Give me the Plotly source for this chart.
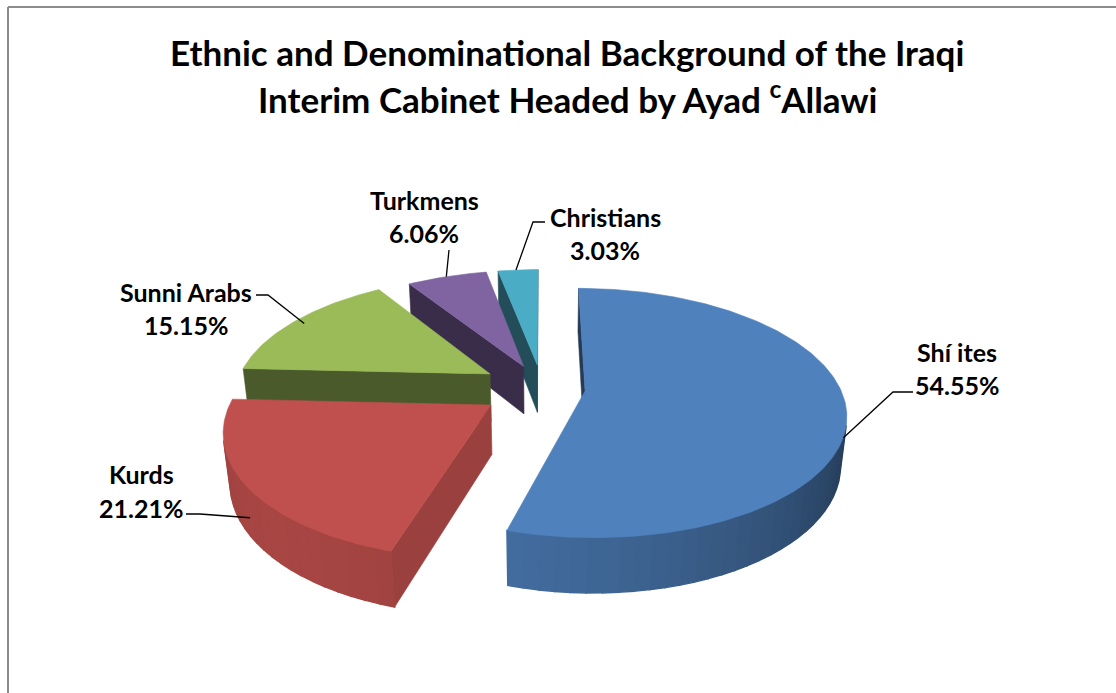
import numpy as np
import plotly.graph_objects as go

# ---- data -------------------------------------------------------------
categories = ["Shí ites", "Kurds", "Sunni Arabs", "Turkmens", "Christians"]
shares = [54.55, 21.21, 15.15, 6.06, 3.03]

# ---- styling ----------------------------------------------------------
colors = ["#4F81BD", "#C0504D", "#9BBB59", "#8064A2", "#4BACC6"]
pulls = [0.17, 0.24, 0.24, 0.20, 0.20]          # explode distance (radius units)
radial_shade = [0.45, 0.80, 0.48, 0.45, 0.45]   # brightness of the cut faces
# label placement: (x centre, name y, value y), elbow points, anchor on slice
label_pos = [(957, 352, 385), (141, 474, 508), (186, 292, 325), (424, 200, 233), (605, 217, 250)]
label_elbow = [[(913, 392), (893, 392)], [(186, 514), (200, 514)], [(256, 295), (268, 295)],
               [(449, 250)], [(545, 222), (533, 222)]]
anchor_spec = [(100, 1.0, -0.5), (235, 1.0, -0.6), (300, 0.95, 0.0), (338, 1.0, 0.0), (354, 1.0, 0.0)]

W, H = 1116, 693
FONT = "Lato"

# ---- simple perspective camera for a tilted 3-D pie --------------------
ALPHA = np.radians(28)
DIST = 5.0
FOCAL = 1275.0
CX, CY = 542.0, 388.0
THICK = 0.22
CAM = np.array([0.0, DIST * np.sin(ALPHA), -DIST * np.cos(ALPHA)])
LIGHT = np.array([-1.0, 0.0, -1.0]) / np.sqrt(2)


def project(X, Y, Z):
    X, Y, Z = np.asarray(X, float), np.asarray(Y, float), np.asarray(Z, float)
    yp = Y * np.cos(ALPHA) + Z * np.sin(ALPHA)
    zp = Z * np.cos(ALPHA) - Y * np.sin(ALPHA)
    s = FOCAL / (DIST + zp)
    return CX + X * s, CY - yp * s


def depth(X, Y, Z):
    return Z * np.cos(ALPHA) - Y * np.sin(ALPHA)


def shade(hex_color, f):
    h = hex_color.lstrip("#")
    rgb = [int(h[i:i + 2], 16) for i in (0, 2, 4)]
    rgb = [max(0, min(255, int(round(c * f)))) for c in rgb]
    return "rgb(%d,%d,%d)" % tuple(rgb)


def facing(normal, point):
    return np.dot(normal, CAM - point) > 0


fig = go.Figure()


def poly(xs, ys, color, lw=0.6):
    xs = list(xs) + [xs[0]]
    ys = list(ys) + [ys[0]]
    fig.add_trace(go.Scatter(x=xs, y=ys, mode="lines", fill="toself",
                             fillcolor=color, line=dict(color=color, width=lw),
                             hoverinfo="skip", showlegend=False))


total = float(sum(shares))
bounds = np.concatenate([[0.0], np.cumsum(shares) / total * 360.0])

slices = []
for i, share in enumerate(shares):
    t1, t2 = bounds[i], bounds[i + 1]
    mid = np.radians((t1 + t2) / 2)
    ox, oz = pulls[i] * np.sin(mid), pulls[i] * np.cos(mid)
    d = depth(ox + 0.5 * np.sin(mid), 0.0, oz + 0.5 * np.cos(mid))
    slices.append((d, i, t1, t2, ox, oz))

# far slices first
for d, i, t1, t2, ox, oz in sorted(slices, key=lambda s: -s[0]):
    col = colors[i]
    # radial cut faces
    for ang, nang in ((t1, t1 - 90), (t2, t2 + 90)):
        a = np.radians(ang)
        n = np.array([np.sin(np.radians(nang)), 0.0, np.cos(np.radians(nang))])
        mid_pt = np.array([ox + 0.5 * np.sin(a), -THICK / 2, oz + 0.5 * np.cos(a)])
        if facing(n, mid_pt):
            X = [ox, ox + np.sin(a), ox + np.sin(a), ox]
            Y = [0, 0, -THICK, -THICK]
            Z = [oz, oz + np.cos(a), oz + np.cos(a), oz]
            px, py = project(X, Y, Z)
            poly(px, py, shade(col, radial_shade[i]))
    # curved outer wall in thin strips, shaded by orientation
    nseg = max(4, int((t2 - t1) / 3))
    edges = np.radians(np.linspace(t1, t2, nseg + 1))
    for k in range(nseg):
        a0, a1 = edges[k], edges[k + 1]
        am = (a0 + a1) / 2
        n = np.array([np.sin(am), 0.0, np.cos(am)])
        mid_pt = np.array([ox + np.sin(am), -THICK / 2, oz + np.cos(am)])
        if not facing(n, mid_pt):
            continue
        f = np.clip(0.6 + 0.27 * np.dot(n, LIGHT), 0.3, 1.0)
        X = [ox + np.sin(a0), ox + np.sin(a1), ox + np.sin(a1), ox + np.sin(a0)]
        Z = [oz + np.cos(a0), oz + np.cos(a1), oz + np.cos(a1), oz + np.cos(a0)]
        Y = [0, 0, -THICK, -THICK]
        px, py = project(X, Y, Z)
        poly(px, py, shade(col, f), lw=1.4)
    # top face
    arc = np.radians(np.linspace(t1, t2, max(8, int(t2 - t1))))
    X = np.concatenate([[ox], ox + np.sin(arc)])
    Z = np.concatenate([[oz], oz + np.cos(arc)])
    px, py = project(X, np.zeros_like(X), Z)
    poly(px, py, col)

# ---- labels and leader lines -----------------------------------------
annotations = []
for i, (cat, share) in enumerate(zip(categories, shares)):
    t1, t2 = bounds[i], bounds[i + 1]
    mid = np.radians((t1 + t2) / 2)
    ox, oz = pulls[i] * np.sin(mid), pulls[i] * np.cos(mid)
    ang, r, yfrac = anchor_spec[i]
    a = np.radians(ang)
    ax_, ay_ = project(ox + r * np.sin(a), THICK * yfrac, oz + r * np.cos(a))
    pts = label_elbow[i] + [(float(ax_), float(ay_))]
    fig.add_trace(go.Scatter(x=[p[0] for p in pts], y=[p[1] for p in pts], mode="lines",
                             line=dict(color="black", width=1.3),
                             hoverinfo="skip", showlegend=False))
    lx, ly1, ly2 = label_pos[i]
    for txt, yy in ((cat, ly1), (f"{share:.2f}%", ly2)):
        annotations.append(dict(x=lx, y=yy, xref="x", yref="y", text=txt, showarrow=False,
                                font=dict(family=FONT, size=25, color="black", weight="bold"),
                                xanchor="center", yanchor="middle"))

# ---- title -------------------------------------------------------------
for txt, yy in (("Ethnic and Denominational Background of the Iraqi", 52),
                ("Interim Cabinet Headed by Ayad <sup>c</sup>Allawi", 97)):
    annotations.append(dict(x=567, y=yy, xref="x", yref="y", text=txt, showarrow=False,
                            font=dict(family=FONT, size=35, color="black", weight="bold"),
                            xanchor="center", yanchor="middle"))

fig.update_layout(
    width=W, height=H,
    margin=dict(l=0, r=0, t=0, b=0),
    paper_bgcolor="white", plot_bgcolor="white",
    xaxis=dict(range=[0, W], visible=False, fixedrange=True),
    yaxis=dict(range=[H, 0], visible=False, fixedrange=True),
    annotations=annotations,
    shapes=[
        dict(type="line", xref="x", yref="y", x0=8, x1=W, y0=7, y1=7,
             line=dict(color="#8c8c8c", width=2)),
        dict(type="line", xref="x", yref="y", x0=8, x1=8, y0=7, y1=H,
             line=dict(color="#8c8c8c", width=2)),
    ],
)

fig.write_html("out.html")
